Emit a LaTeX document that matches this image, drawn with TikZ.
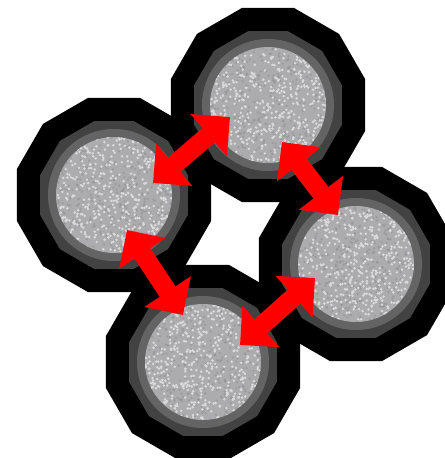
\documentclass[tikz,border=0pt]{standalone}
\usepackage{xcolor}
\usetikzlibrary{shapes.geometric, arrows.meta, calc}
\definecolor{ShellGray}{RGB}{66,66,66}
\definecolor{CoatGray}{RGB}{100,100,100}
\definecolor{CoreGray}{RGB}{172,172,174}
\definecolor{BondRed}{RGB}{255,0,0}

\begin{document}
\begin{tikzpicture}[x=0.2mm, y=-0.2mm]
    \tikzset{
        particle/.style={regular polygon, regular polygon sides=12, fill=black,
            inner sep=0pt, minimum size=40.2mm},
        shellring/.style={regular polygon, regular polygon sides=12, fill=ShellGray,
            inner sep=0pt, minimum size=30.6mm},
        coatring/.style={circle, fill=CoatGray, inner sep=0pt, minimum size=26.4mm},
        core/.style={circle, fill=CoreGray, inner sep=0pt, minimum size=23.2mm},
        speck/.style={fill=white!55!CoreGray},
        darkspeck/.style={fill=black!45},
        bond/.style={line width=3.8mm, BondRed,
            {Triangle[width=10.8mm,length=5.6mm]}-{Triangle[width=10.8mm,length=5.6mm]}}
    }
    \useasboundingbox (0,0) rectangle (445,458);
    \clip (0,0) rectangle (445,458);
    \pgfmathsetseed{11}
    % particle centres
    \coordinate (ptop) at (268,105);
    \coordinate (pleft) at (114,195);
    \coordinate (pright) at (356,264);
    \coordinate (pbottom) at (203,362);
    % black outer shells first, so they merge
    \foreach \p in {ptop,pleft,pright,pbottom}
        \node[particle] (\p-out) at (\p) {};
    \foreach \p in {ptop,pleft,pright,pbottom} {
        \node[shellring] (\p-shell) at (\p) {};
        \node[coatring] (\p-coat) at (\p) {};
        \node[core] (\p-core) at (\p) {};
        \begin{scope}
            \clip (\p) circle (58);
            \foreach \k in {1,...,420}
                \fill[darkspeck, opacity=0.5] ($(\p)+({rand*58},{rand*58})$) circle (1.3);
            \foreach \k in {1,...,520}
                \fill[speck] ($(\p)+({rand*58},{rand*58})$) circle (1.4);
        \end{scope}
    }
    % bond arrow ends
    \coordinate (tl-a) at (153,183);
    \coordinate (tl-b) at (230,117);
    \coordinate (tr-a) at (282,142);
    \coordinate (tr-b) at (338,215);
    \coordinate (bl-a) at (127,230);
    \coordinate (bl-b) at (183,315);
    \coordinate (br-a) at (240,345);
    \coordinate (br-b) at (315,278);
    \draw[bond] (tl-a) -- (tl-b);
    \draw[bond] (tr-a) -- (tr-b);
    \draw[bond] (bl-a) -- (bl-b);
    \draw[bond] (br-a) -- (br-b);
\end{tikzpicture}
\end{document}
